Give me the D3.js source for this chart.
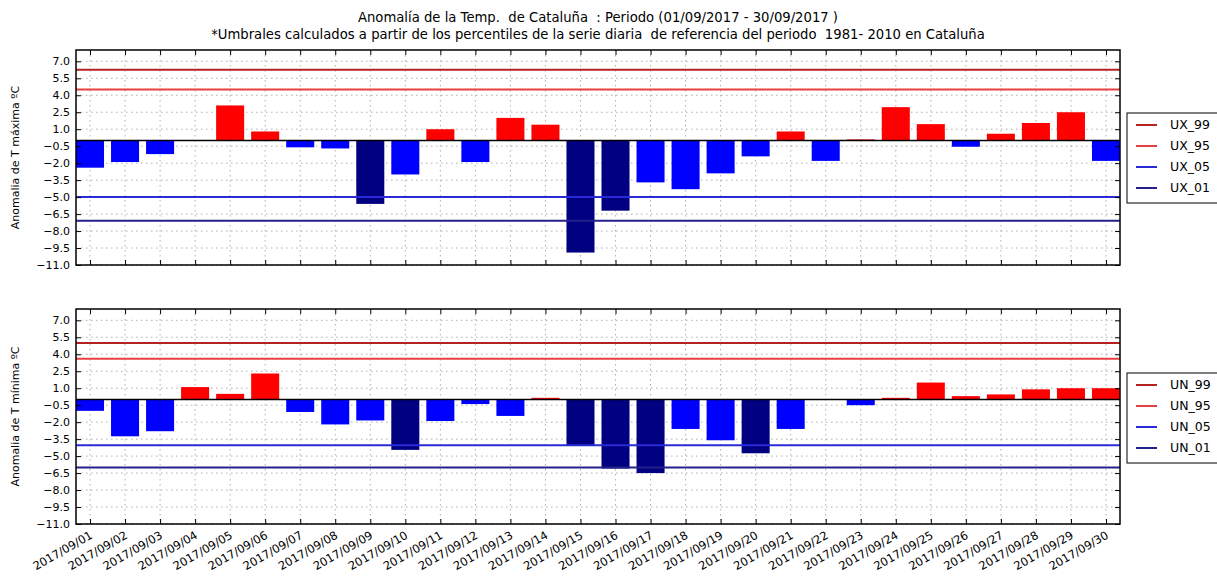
<!DOCTYPE html>
<html>
<head>
<meta charset="utf-8">
<script src="https://cdn.jsdelivr.net/npm/d3@7"></script>
<style>
body { margin: 0; background: #fff; }
text { font-family: "DejaVu Sans", sans-serif; fill: #000; white-space: pre; }
</style>
</head>
<body>
<svg id="chart" width="1217" height="576"></svg>
<script>
// ---- data ----
const dates = ["2017/09/01","2017/09/02","2017/09/03","2017/09/04","2017/09/05","2017/09/06","2017/09/07","2017/09/08","2017/09/09","2017/09/10",
  "2017/09/11","2017/09/12","2017/09/13","2017/09/14","2017/09/15","2017/09/16","2017/09/17","2017/09/18","2017/09/19","2017/09/20",
  "2017/09/21","2017/09/22","2017/09/23","2017/09/24","2017/09/25","2017/09/26","2017/09/27","2017/09/28","2017/09/29","2017/09/30"];
const anomMax = [-2.4, -1.9, -1.2, 0.0, 3.1, 0.8, -0.6, -0.7, -5.6, -3.0,
  1.0, -1.9, 2.0, 1.4, -9.9, -6.2, -3.7, -4.3, -2.9, -1.4,
  0.8, -1.8, 0.1, 2.95, 1.45, -0.55, 0.6, 1.55, 2.5, -1.8];
const anomMin = [-1.0, -3.25, -2.8, 1.1, 0.5, 2.3, -1.1, -2.2, -1.85, -4.45,
  -1.9, -0.4, -1.45, 0.15, -4.1, -6.1, -6.5, -2.6, -3.6, -4.75,
  -2.6, 0.0, -0.5, 0.15, 1.5, 0.3, 0.45, 0.9, 1.0, 1.0];
const thrMax = { p99: 6.25, p95: 4.5, p05: -5.0, p01: -7.1 };
const thrMin = { p99: 5.0, p95: 3.6, p05: -4.05, p01: -6.0 };
const yTicks = [7.0, 5.5, 4.0, 2.5, 1.0, -0.5, -2.0, -3.5, -5.0, -6.5, -8.0, -9.5, -11.0];
const legendMax = ["UX_99", "UX_95", "UX_05", "UX_01"];
const legendMin = ["UN_99", "UN_95", "UN_05", "UN_01"];
const titleLines = ["Anomalía de la Temp.  de Cataluña  : Periodo (01/09/2017 - 30/09/2017 )",
  "*Umbrales calculados a partir de los percentiles de la serie diaria  de referencia del periodo  1981- 2010 en Cataluña"];

// ---- styles ----
const C = { red: "#ff0000", blue: "#0000ff", navy: "#000080",
  l99: "#b52222", l95: "#e84040", l05: "#2a2ad8", l01: "#22228a" };

const svg = d3.select("#chart");
const X0 = 76, X1 = 1120;
const x = d3.scaleLinear().domain([-0.4, dates.length - 0.6]).range([X0, X1]);
const fmt = v => (v < 0 ? "\u2212" : "") + Math.abs(v).toFixed(1);

svg.append("g").selectAll("text").data(titleLines).join("text")
  .attr("x", (X0 + X1) / 2).attr("y", (d, i) => 22 + i * 17)
  .attr("text-anchor", "middle").style("font-size", "13.2px").text(d => d);

function panel(top, bottom, vals, thr, ylabel, legendNames, legendTop, showX) {
  const y = d3.scaleLinear().domain([-11, 8]).range([bottom, top]);
  const g = svg.append("g");
  // grid
  g.append("g").selectAll("line").data(yTicks).join("line")
    .attr("x1", X0).attr("x2", X1).attr("y1", d => y(d)).attr("y2", d => y(d))
    .attr("stroke", "#9a9a9a").attr("stroke-width", 0.8).attr("stroke-dasharray", "1.5,3.5");
  g.append("g").selectAll("line").data(dates).join("line")
    .attr("x1", (d, i) => x(i)).attr("x2", (d, i) => x(i)).attr("y1", top).attr("y2", bottom)
    .attr("stroke", "#9a9a9a").attr("stroke-width", 0.8).attr("stroke-dasharray", "1.5,3.5");
  // bars
  const bw = x(0.8) - x(0);
  g.append("g").selectAll("rect").data(vals).join("rect")
    .attr("x", (d, i) => x(i - 0.4)).attr("width", bw)
    .attr("y", d => y(Math.max(0, d))).attr("height", d => Math.abs(y(d) - y(0)))
    .attr("fill", d => d >= 0 ? C.red : (d < thr.p05 ? C.navy : C.blue));
  // threshold lines
  const lines = [[thr.p99, C.l99], [thr.p95, C.l95], [thr.p05, C.l05], [thr.p01, C.l01]];
  g.append("g").selectAll("line").data(lines).join("line")
    .attr("x1", X0).attr("x2", X1).attr("y1", d => y(d[0])).attr("y2", d => y(d[0]))
    .attr("stroke", d => d[1]).attr("stroke-width", 2);
  g.append("line").attr("x1", X0).attr("x2", X1).attr("y1", y(0)).attr("y2", y(0))
    .attr("stroke", "#000").attr("stroke-width", 1.5);
  // axes (ticks inside)
  const tl = 5;
  const ax = [
    [d3.axisLeft(y).tickValues(yTicks).tickFormat(fmt).tickSizeInner(-tl).tickSizeOuter(0), `translate(${X0},0)`, true],
    [d3.axisRight(y).tickValues(yTicks).tickFormat("").tickSizeInner(-tl).tickSizeOuter(0), `translate(${X1},0)`, false],
    [d3.axisTop(x).tickValues(d3.range(dates.length)).tickFormat("").tickSizeInner(-tl).tickSizeOuter(0), `translate(0,${top})`, false],
    [d3.axisBottom(x).tickValues(d3.range(dates.length)).tickFormat("").tickSizeInner(-tl).tickSizeOuter(0), `translate(0,${bottom})`, false]
  ];
  ax.forEach(([a, tr, lab]) => {
    const ag = g.append("g").attr("transform", tr).call(a);
    ag.select(".domain").remove();
    ag.selectAll("line").attr("stroke", "#000").attr("stroke-width", 1);
    if (lab) ag.selectAll("text").attr("x", -6).style("font-size", "11px").style("font-family", "DejaVu Sans").attr("fill", "#000");
  });
  g.append("rect").attr("x", X0).attr("y", top).attr("width", X1 - X0).attr("height", bottom - top)
    .attr("fill", "none").attr("stroke", "#000").attr("stroke-width", 1.5);
  // y label
  g.append("text").attr("transform", `translate(19,${(top + bottom) / 2}) rotate(-90)`)
    .attr("text-anchor", "middle").style("font-size", "11px").text(ylabel);
  // x labels
  if (showX) {
    g.append("g").selectAll("text").data(dates).join("text")
      .attr("transform", (d, i) => `translate(${x(i) - 1},${bottom + 6}) rotate(-30)`)
      .attr("text-anchor", "end").attr("dy", "0.75em")
      .style("font-size", "11.5px").text(d => d);
  }
  // legend
  const lg = g.append("g").attr("transform", `translate(1127,${legendTop})`);
  lg.append("rect").attr("x", 0).attr("y", 0).attr("width", 120).attr("height", 90)
    .attr("fill", "#fff").attr("stroke", "#000").attr("stroke-width", 1);
  const items = legendNames.map((n, i) => [n, lines[i][1]]);
  const it = lg.selectAll("g").data(items).join("g").attr("transform", (d, i) => `translate(0,${12 + i * 21})`);
  it.append("line").attr("x1", 9).attr("x2", 30).attr("stroke", d => d[1]).attr("stroke-width", 2);
  it.append("text").attr("x", 43).attr("dy", "0.35em").style("font-size", "12.5px").text(d => d[0]);
}

panel(50, 265, anomMax, thrMax, "Anomalia de T máxima ºC", legendMax, 113, false);
panel(309, 524, anomMin, thrMin, "Anomalia de T mínima ºC", legendMin, 373, true);
</script>
</body>
</html>
